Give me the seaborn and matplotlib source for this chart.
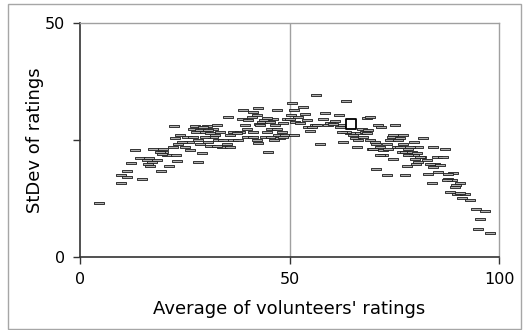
import matplotlib
matplotlib.use("Agg")
import matplotlib.pyplot as plt
from matplotlib.path import Path
from matplotlib.patches import Rectangle
import seaborn as sns
import pandas as pd

# average rating (x) and standard deviation (y) per item
avg = [4.5, 9.7, 9.7, 11.2, 11.2, 14.9, 12.1, 13.1, 14.3, 16.5, 17.1, 16.7, 17.5, 19.3, 19.9,
       19.7, 21.3, 20.7, 22.3, 22.9, 23.2, 23.5, 23.9, 22.4, 25.1, 25.9, 26.3, 25.5, 27.8, 27.4,
       28.2, 29.0, 28.2, 29.8, 30.2, 30.6, 31.8, 32.2, 32.6, 33.4, 33.0, 33.8, 34.2, 35.4, 35.8,
       36.6, 35.9, 36.6, 39.0, 38.6, 39.4, 40.2, 41.4, 42.5, 42.2, 42.8, 41.4, 39.8, 42.3, 42.5,
       43.8, 44.9, 44.6, 45.5, 46.1, 46.9, 46.3, 47.3, 48.1, 48.5, 48.9, 49.3, 50.3, 50.5, 51.0,
       51.0, 51.3, 53.3, 53.7, 54.1, 54.5, 54.8, 56.1, 56.3, 57.3, 58.1, 58.5, 59.3, 60.9, 61.7,
       62.1, 62.8, 63.6, 64.4, 65.6, 66.0, 66.8, 67.2, 68.0, 68.4, 69.2, 69.2, 69.6, 70.6, 70.6,
       71.2, 71.9, 72.4, 72.4, 73.2, 73.2, 74.4, 74.8, 75.2, 75.6, 76.4, 76.8, 77.2, 77.6, 78.0,
       78.4, 79.6, 79.6, 80.2, 80.7, 81.5, 81.9, 82.7, 83.1, 83.9, 84.3, 84.7, 85.1, 85.5, 85.9,
       86.7, 87.1, 87.9, 88.3, 88.7, 89.1, 89.5, 90.0, 90.7, 91.1, 91.9, 93.1, 94.5, 95.5, 96.7,
       95.1, 97.9,
       27.0, 28.6, 29.4, 30.6, 31.0, 31.8, 29.8, 28.6, 31.0, 32.6, 35.0, 27.0, 24.3, 22.7, 19.1,
       19.5, 18.3, 15.9, 16.3,
       41.0, 43.0, 43.4, 44.6, 45.4, 46.5, 46.9, 44.1, 45.7, 47.7, 41.4, 38.2, 37.4, 37.8, 39.8,
       48.5, 50.1, 52.1, 52.5, 55.3, 56.5, 59.7, 60.5, 62.8, 63.6, 65.2, 66.4, 67.6, 68.4, 68.8,
       62.5,
       74.0, 74.8, 76.0, 76.4, 77.2, 77.6, 78.4, 78.8, 79.2, 79.9, 80.4, 80.7, 81.1, 71.6, 71.6,
       70.4, 70.0, 73.6, 83.5, 84.3, 87.9, 87.5, 89.8, 90.7]
stdev = [11.6, 15.7, 17.4, 18.4, 17.1, 16.7, 20.0, 22.8, 21.2, 21.2, 20.2, 19.4, 23.0, 18.4, 22.4,
         23.0, 19.4, 21.7, 23.5, 21.7, 20.4, 24.2, 26.0, 27.9, 23.5, 24.6, 22.9, 25.6, 26.7, 27.9,
         20.3, 22.1, 24.9, 26.7, 27.9, 24.6, 27.4, 26.0, 28.1, 26.7, 24.9, 23.5, 24.9, 29.9, 26.0,
         26.7, 23.5, 24.9, 31.3, 29.5, 28.1, 29.2, 31.0, 31.9, 30.3, 28.3, 26.7, 25.6, 24.9, 24.4,
         29.2, 22.4, 26.7, 27.4, 29.5, 31.3, 24.9, 26.0, 26.7, 28.5, 26.0, 29.5, 30.3, 32.8, 26.0,
         31.3, 28.8, 32.0, 30.6, 29.2, 27.8, 26.9, 28.1, 34.5, 24.2, 29.5, 30.8, 28.1, 29.1, 30.3,
         27.8, 24.6, 33.3, 26.4, 25.3, 23.5, 26.4, 27.4, 26.7, 29.6, 29.9, 24.9, 23.1, 18.7, 24.2,
         28.1, 27.8, 22.8, 21.7, 17.4, 24.2, 25.6, 21.0, 28.1, 23.5, 25.3, 22.4, 26.0, 17.4, 19.4,
         23.1, 24.6, 21.7, 19.9, 23.5, 21.4, 25.3, 20.7, 17.8, 15.7, 23.5, 19.9, 21.4, 18.2, 19.6,
         21.4, 23.0, 16.7, 13.9, 16.4, 18.0, 14.9, 13.5, 15.8, 12.6, 13.5, 12.1, 10.2, 8.2, 9.8,
         5.9, 5.2,
         27.4, 27.1, 27.8, 27.2, 26.4, 25.6, 25.6, 24.2, 23.7, 23.7, 24.2, 25.6, 24.6, 25.5, 22.4,
         21.9, 20.7, 20.8, 19.9,
         29.9, 28.1, 28.8, 29.6, 28.8, 28.1, 27.4, 25.6, 25.6, 25.3, 25.6, 26.7, 26.4, 24.9, 27.4,
         25.6, 29.5, 29.9, 28.5, 27.8, 28.1, 28.6, 28.3, 28.1, 26.7, 26.0, 24.9, 25.6, 26.5, 27.2,
         26.7,
         24.9, 26.0, 24.9, 23.5, 24.2, 22.4, 21.7, 23.5, 22.4, 21.0, 22.1, 20.3, 21.4, 21.7, 23.5,
         24.6, 23.1, 23.1, 19.9, 19.2, 17.8, 16.4, 15.3, 13.7]

highlight_avg = [64.7]
highlight_std = [28.3]

x_ticks = [0, 50, 100]
y_ticks = [0, 50]
x_label = "Average of volunteers' ratings"
y_label = "StDev of ratings"

df = pd.DataFrame({"avg": avg, "stdev": stdev})
hl = pd.DataFrame({"avg": highlight_avg, "stdev": highlight_std})

plt.rcParams["font.family"] = ["DejaVu Sans"]

fig = plt.figure(figsize=(5.25, 3.30), dpi=100)
fig.patches.append(Rectangle((8 / 525, 1 / 330), 513 / 525, 325 / 330,
                             transform=fig.transFigure, fill=False,
                             edgecolor="#a6a6a6", linewidth=1.0))
ax = fig.add_axes([80 / 525, 1 - 257 / 330, 419 / 525, (257 - 22.7) / 330])

dash = Path([(-1, -0.22), (1, -0.22), (1, 0.22), (-1, 0.22), (-1, -0.22)],
            [Path.MOVETO, Path.LINETO, Path.LINETO, Path.LINETO, Path.CLOSEPOLY])

ax.axvline(50, color="#a0a0a0", linewidth=1.0, zorder=0)

sns.scatterplot(data=df, x="avg", y="stdev", ax=ax, marker=dash, s=48,
                color="#b0b0b0", edgecolor="#1a1a1a", linewidth=0.6, zorder=3)
sns.scatterplot(data=hl, x="avg", y="stdev", ax=ax, marker="s", s=42,
                color="white", edgecolor="black", linewidth=1.3, zorder=4)

ax.set_xlim(0, 100)
ax.set_ylim(0, 50)
ax.set_xticks(x_ticks)
ax.set_xticklabels([str(t) for t in x_ticks], fontsize=11.5)
ax.set_yticks([0, 25, 50])
ax.set_yticklabels(["0", "", "50"], fontsize=11.5)
ax.tick_params(axis="both", direction="out", length=5, width=1.0, color="#333333",
               labelcolor="black", pad=6)
ax.set_xlabel(x_label, fontsize=13, labelpad=9)
ax.set_ylabel(y_label, fontsize=13, labelpad=0)

for side in ["left", "bottom"]:
    ax.spines[side].set_color("#333333")
    ax.spines[side].set_linewidth(1.2)
for side in ["top", "right"]:
    ax.spines[side].set_color("#a0a0a0")
    ax.spines[side].set_linewidth(1.0)

fig.savefig("out.png", dpi=100)
